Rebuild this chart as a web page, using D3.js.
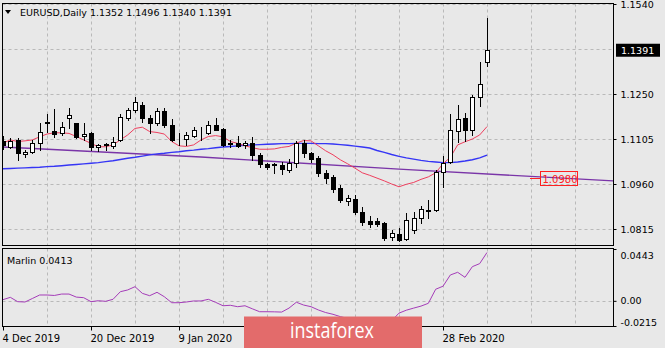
<!DOCTYPE html>
<html>
<head>
<meta charset="utf-8">
<script src="https://cdn.jsdelivr.net/npm/d3@7"></script>
<style>
  html, body { margin: 0; padding: 0; background: #e8e8e8; }
  svg { display: block; font-family: "DejaVu Sans", Verdana, sans-serif; }
</style>
</head>
<body>
<svg id="chart" width="665" height="348"></svg>
<script>
// ---- EURUSD daily, 4 Dec 2019 .. 9 Mar 2020 ----
const symbol = "EURUSD,Daily";
const dateLabels = ["4 Dec 2019", "20 Dec 2019", "9 Jan 2020", "28 Feb 2020"];
const dateLabelIdx = [0, 12, 24, 60];

const opens = [1.1100,1.1080,1.1102,1.1056,1.1062,1.1091,1.1158,1.1132,1.1125,1.1172,1.1156,1.1115,1.1123,1.1080,1.1087,1.1083,
  1.1102,1.1172,1.1198,1.1215,1.1172,1.1158,1.1196,1.1150,1.1101,1.1105,1.1115,1.1127,1.1125,1.1150,1.1136,1.1090,1.1093,
  1.1086,1.1093,1.1053,1.1024,1.1022,1.1021,1.1005,1.1029,1.1093,1.1059,1.1043,1.0994,1.0981,1.0946,1.0906,1.0912,1.0871,
  1.0842,1.0840,1.0833,1.0788,1.0799,1.0782,1.0812,1.0849,1.0874,1.0876,1.1000,1.1032,1.1132,1.1172,1.1134,1.1240,1.1352];
const highs = [1.1115,1.1108,1.1108,1.1070,1.1102,1.1156,1.1185,1.1202,1.1160,1.1204,1.1158,1.1156,1.1126,1.1089,1.1092,1.1112,
  1.1187,1.1204,1.1241,1.1223,1.1182,1.1204,1.1204,1.1169,1.1124,1.1129,1.1145,1.1143,1.1164,1.1172,1.1140,1.1102,1.1115,
  1.1099,1.1112,1.1059,1.1029,1.1027,1.1032,1.1040,1.1097,1.1102,1.1064,1.1051,1.1005,1.0989,1.0957,1.0925,1.0925,1.0887,
  1.0857,1.0852,1.0836,1.0812,1.0818,1.0866,1.0871,1.0889,1.0908,1.1005,1.1050,1.1185,1.1214,1.1188,1.1247,1.1353,1.1496];
const lows = [1.1072,1.1077,1.1037,1.1048,1.1060,1.1070,1.1128,1.1112,1.1118,1.1140,1.1108,1.1102,1.1070,1.1065,1.1070,1.1075,
  1.1098,1.1166,1.1193,1.1160,1.1124,1.1150,1.1145,1.1097,1.1086,1.1086,1.1113,1.1102,1.1121,1.1134,1.1081,1.1080,1.1080,
  1.1075,1.1037,1.1016,1.1008,1.0997,1.0993,1.1000,1.1016,1.1048,1.1032,1.0987,1.0962,1.0935,1.0903,1.0893,1.0863,1.0828,
  1.0822,1.0825,1.0779,1.0779,1.0775,1.0779,1.0801,1.0833,1.0849,1.0874,1.0951,1.1027,1.1096,1.1097,1.1118,1.1211,1.1340];
const closes = [1.1085,1.1100,1.1060,1.1064,1.1093,1.1128,1.1161,1.1121,1.1145,1.1182,1.1112,1.1122,1.1080,1.1086,1.1088,1.1094,
  1.1177,1.1198,1.1225,1.1172,1.1158,1.1196,1.1150,1.1102,1.1102,1.1118,1.1134,1.1129,1.1150,1.1134,1.1086,1.1091,1.1082,
  1.1093,1.1053,1.1024,1.1014,1.1023,1.1008,1.1029,1.1093,1.1059,1.1040,1.0994,1.0978,1.0943,1.0908,1.0914,1.0870,1.0838,
  1.0830,1.0831,1.0785,1.0803,1.0781,1.0844,1.0849,1.0878,1.0877,1.1000,1.1027,1.1134,1.1168,1.1134,1.1239,1.1282,1.1391];

// fast moving average (red)
const fastMA = [1.1092,1.1102,1.1097,1.1099,1.1102,1.1112,1.1121,1.1125,1.1125,1.1123,1.1113,1.1102,1.1091,1.1080,1.1080,1.1086,
  1.1102,1.1118,1.1139,1.1143,1.1129,1.1126,1.1121,1.1097,1.1083,1.1081,1.1086,1.1102,1.1113,1.1116,1.1112,1.1097,1.1091,
  1.1083,1.1077,1.1072,1.1072,1.1073,1.1078,1.1081,1.1092,1.1100,1.1099,1.1083,1.1067,1.1054,1.1038,1.1025,1.1011,1.0996,
  1.0988,1.0979,1.0970,1.0960,1.0951,1.0959,1.0965,1.0975,1.0983,1.0996,1.1025,1.1046,1.1086,1.1096,1.1105,1.1118,1.1145];
// slow moving average (blue)
const slowMA = [1.1009,1.1010,1.1011,1.1012,1.1013,1.1014,1.1016,1.1017,1.1019,1.1021,1.1023,1.1025,1.1027,1.1029,1.1032,1.1035,
  1.1039,1.1043,1.1046,1.1050,1.1054,1.1057,1.1059,1.1062,1.1064,1.1067,1.1069,1.1072,1.1074,1.1077,1.1079,1.1081,1.1083,
  1.1085,1.1086,1.1087,1.1088,1.1089,1.1090,1.1090,1.1091,1.1091,1.1091,1.1090,1.1090,1.1089,1.1087,1.1085,1.1082,1.1079,
  1.1076,1.1068,1.1062,1.1055,1.1049,1.1044,1.1040,1.1036,1.1033,1.1031,1.1029,1.1029,1.1031,1.1034,1.1038,1.1044,1.1053];
// long trend line (purple), anchors by bar index
const trendIdx = [0, 27, 54, 83.2];
const trendVal = [1.1079, 1.1047, 1.1008, 1.0970];
const targetLevel = 1.0980;

// Marlin oscillator
const marlin = [0.0010,0.0030,-0.0007,-0.0010,0.0020,0.0050,0.0050,0.0046,0.0058,0.0058,0.0032,0.0027,-0.0007,0.0001,-0.0004,0.0013,
  0.0078,0.0093,0.0121,0.0064,0.0044,0.0073,0.0035,-0.0016,-0.0016,-0.0010,-0.0001,-0.0001,0.0013,-0.0013,-0.0042,-0.0038,-0.0050,
  -0.0042,-0.0068,-0.0093,-0.0093,-0.0094,-0.0096,-0.0062,-0.0012,-0.0036,-0.0050,-0.0078,-0.0100,-0.0115,-0.0135,-0.0150,-0.0160,-0.0175,
  -0.0180,-0.0185,-0.0190,-0.0170,-0.0105,-0.0080,-0.0062,-0.0045,-0.0021,0.0099,0.0125,0.0221,0.0244,0.0201,0.0292,0.0318,0.0413];

const priceTicks = [1.1540, 1.1250, 1.1105, 1.0960, 1.0815];
const priceGrid = [1.1540, 1.1395, 1.1250, 1.1105, 1.0960, 1.0815];
const marlinTicks = [0.0443, 0.00, -0.0215];
const marlinTickText = ["0.0443", "0.00", "-0.0215"];

// ---- layout ----
const L = 2.5, R = 613.5;
const mainTop = 3.5, mainBot = 245.5;
const indTop = 248.5, indBot = 326.5;
const n = closes.length;

const svg = d3.select("#chart");
const x = d3.scaleLinear().domain([0, n - 1]).range([3, 487]);
const y = d3.scaleLinear().domain([1.0815, 1.1540]).range([229, 4]);
const ym = d3.scaleLinear().domain([-0.0215, 0.0443]).range([326, 249]);

const defs = svg.append("defs");
defs.append("clipPath").attr("id", "clipMain").append("rect")
  .attr("x", L).attr("y", mainTop).attr("width", R - L).attr("height", mainBot - mainTop);
defs.append("clipPath").attr("id", "clipInd").append("rect")
  .attr("x", L).attr("y", indTop).attr("width", R - L).attr("height", indBot - indTop);

const gridColor = "#b9b9b9";
const vGrid = d3.range(6, 84, 6);

// main panel grid
const gMain = svg.append("g").attr("clip-path", "url(#clipMain)");
gMain.selectAll("line.hg").data(priceGrid).join("line")
  .attr("x1", L).attr("x2", R)
  .attr("y1", d => Math.round(y(d)) + 0.5).attr("y2", d => Math.round(y(d)) + 0.5)
  .attr("stroke", gridColor).attr("stroke-dasharray", "3,3");
gMain.selectAll("line.vg").data(vGrid).join("line")
  .attr("x1", d => Math.round(x(d)) + 0.5).attr("x2", d => Math.round(x(d)) + 0.5)
  .attr("y1", mainTop).attr("y2", mainBot)
  .attr("stroke", gridColor).attr("stroke-dasharray", "3,3");

// indicator grid
const gInd = svg.append("g").attr("clip-path", "url(#clipInd)");
gInd.append("line").attr("x1", L).attr("x2", R)
  .attr("y1", Math.round(ym(0)) + 0.5).attr("y2", Math.round(ym(0)) + 0.5)
  .attr("stroke", gridColor).attr("stroke-dasharray", "3,3");
gInd.selectAll("line.vg").data(vGrid).join("line")
  .attr("x1", d => Math.round(x(d)) + 0.5).attr("x2", d => Math.round(x(d)) + 0.5)
  .attr("y1", indTop).attr("y2", indBot)
  .attr("stroke", gridColor).attr("stroke-dasharray", "3,3");

// moving averages and trend line
const idx = d3.range(n);
const lineOf = arr => d3.line().x(i => x(i)).y(i => y(arr[i]));
gMain.append("path").attr("d", d3.line().x((d, k) => x(trendIdx[k])).y(d => y(d))(trendVal))
  .attr("fill", "none").attr("stroke", "#7a35a8").attr("stroke-width", 1.4);
gMain.append("path").attr("d", lineOf(slowMA)(idx))
  .attr("fill", "none").attr("stroke", "#3535f5").attr("stroke-width", 1.4);
gMain.append("path").attr("d", lineOf(fastMA)(idx))
  .attr("fill", "none").attr("stroke", "#ee3f5e").attr("stroke-width", 1);

// candles
const candles = gMain.selectAll("g.candle").data(idx).join("g");
candles.append("line")
  .attr("x1", i => Math.round(x(i)) + 0.5).attr("x2", i => Math.round(x(i)) + 0.5)
  .attr("y1", i => Math.round(y(highs[i]))).attr("y2", i => Math.round(y(lows[i])) + 1)
  .attr("stroke", "#000");
candles.append("rect")
  .attr("x", i => Math.round(x(i)) - 1.5)
  .attr("width", 4)
  .attr("y", i => Math.round(y(Math.max(opens[i], closes[i]))) + 0.5)
  .attr("height", i => Math.max(0, Math.round(y(Math.min(opens[i], closes[i]))) - Math.round(y(Math.max(opens[i], closes[i])))))
  .attr("fill", i => closes[i] >= opens[i] ? "#fff" : "#000")
  .attr("stroke", "#000");

// target level mark on the trend line
const tx0 = Math.round(x(71.8)), tx1 = Math.round(x(73.2));
const tY = Math.round(y(targetLevel)) + 0.5;
svg.append("line").attr("x1", tx0).attr("x2", tx1).attr("y1", tY).attr("y2", tY)
  .attr("stroke", "#ff2020").attr("stroke-width", 1);
svg.append("rect").attr("x", tx1 + 0.5).attr("y", tY - 7).attr("width", 37).attr("height", 14)
  .attr("fill", "none").attr("stroke", "#ff2020");
svg.append("text").attr("x", tx1 + 2.5).attr("y", tY + 4)
  .attr("font-size", "10px").attr("fill", "#ff2020").text(d3.format(".4f")(targetLevel));

// Marlin line
gInd.append("path").attr("d", d3.line().x(i => x(i)).y(i => ym(marlin[i]))(idx))
  .attr("fill", "none").attr("stroke", "#a43cb8").attr("stroke-width", 1);

// panel frames
svg.append("rect").attr("x", L).attr("y", mainTop).attr("width", R - L).attr("height", mainBot - mainTop)
  .attr("fill", "none").attr("stroke", "#000");
svg.append("rect").attr("x", L).attr("y", indTop).attr("width", R - L).attr("height", indBot - indTop)
  .attr("fill", "none").attr("stroke", "#000");

// price axis
const priceAxis = d3.axisRight(y).tickValues(priceTicks).tickFormat(d3.format(".4f"))
  .tickSizeInner(3).tickSizeOuter(0).tickPadding(4);
const gPA = svg.append("g").attr("transform", `translate(${R},0)`).call(priceAxis);
gPA.select(".domain").remove();
gPA.selectAll("text").attr("font-size", "9.5px").attr("font-family", "DejaVu Sans").attr("fill", "#000");
gPA.selectAll("line").attr("stroke", "#000");

// current price tag
const lastClose = closes[n - 1];
const cy = y(lastClose);
svg.append("rect").attr("x", 616).attr("y", cy - 6.5).attr("width", 44).attr("height", 13).attr("fill", "#000");
svg.append("text").attr("x", 621).attr("y", cy + 3.5).attr("font-size", "9.5px").attr("fill", "#fff")
  .text(d3.format(".4f")(lastClose));

// Marlin axis
const mAxis = d3.axisRight(ym).tickValues(marlinTicks).tickFormat((d, k) => marlinTickText[k])
  .tickSizeInner(3).tickSizeOuter(0).tickPadding(4);
const gMA = svg.append("g").attr("transform", `translate(${R},0)`).call(mAxis);
gMA.select(".domain").remove();
gMA.selectAll("text").attr("font-size", "9.5px").attr("font-family", "DejaVu Sans").attr("fill", "#000");
gMA.selectAll("line").attr("stroke", "#000");
// keep the edge labels inside the panel span
gMA.selectAll(".tick").filter(d => d === marlinTicks[0]).select("text").attr("dy", "0.95em");
gMA.selectAll(".tick").filter(d => d === marlinTicks[2]).select("text").attr("dy", "-0.1em");

// time axis
const tAxis = d3.axisBottom(x).tickValues(dateLabelIdx).tickFormat((d, k) => dateLabels[k])
  .tickSizeInner(4).tickSizeOuter(0).tickPadding(4);
const gTA = svg.append("g").attr("transform", `translate(0,${indBot})`).call(tAxis);
gTA.select(".domain").remove();
gTA.selectAll("text").attr("text-anchor", "start").attr("dx", "-1")
  .attr("font-size", "10px").attr("font-family", "DejaVu Sans").attr("fill", "#000");
gTA.selectAll("line").attr("stroke", "#000");

// headers
svg.append("path").attr("d", "M5,10 L11,10 L8,14 Z").attr("fill", "#000");
svg.append("text").attr("x", 20).attr("y", 16).attr("font-size", "9.5px").attr("fill", "#000")
  .text(`${symbol} ${d3.format(".4f")(opens[n-1])} ${d3.format(".4f")(highs[n-1])} ${d3.format(".4f")(lows[n-1])} ${d3.format(".4f")(closes[n-1])}`);
svg.append("text").attr("x", 7).attr("y", 264).attr("font-size", "9.5px").attr("fill", "#000")
  .text(`Marlin ${d3.format(".4f")(marlin[n-1])}`);

// brand badge
svg.append("rect").attr("x", 244).attr("y", 316.5).attr("width", 178).attr("height", 32).attr("fill", "#e36b6b");
svg.append("text").attr("x", 290).attr("y", 338).attr("font-size", "22px")
  .attr("font-family", "Open Sans, DejaVu Sans, sans-serif").attr("fill", "#fff")
  .attr("textLength", 84).attr("lengthAdjust", "spacingAndGlyphs").text("instaforex");
</script>
</body>
</html>
